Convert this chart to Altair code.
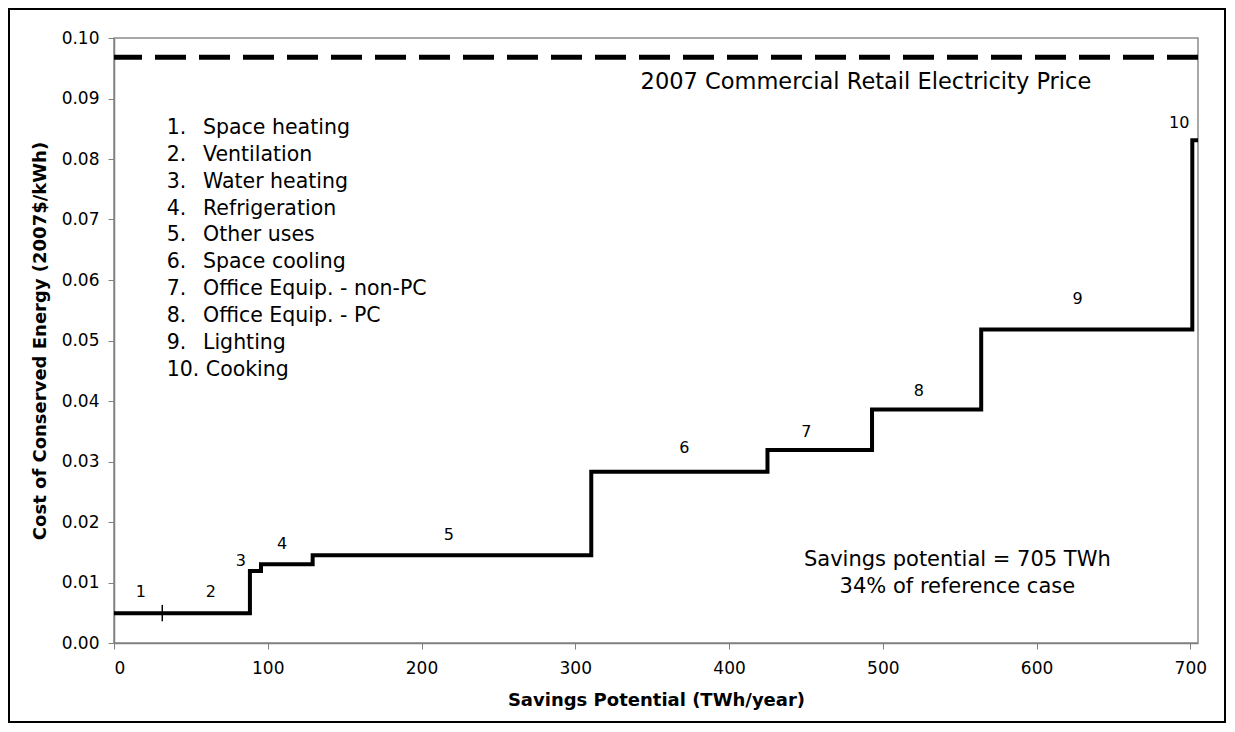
import altair as alt
import pandas as pd

# ---- data ----
step_start = [0, 31.4, 88.4, 95.6, 129.2, 310.4, 425.0, 493.0, 564.0, 701.3]
step_cost = [0.0049, 0.0049, 0.0119, 0.0130, 0.0145, 0.0283, 0.0319, 0.0386, 0.0518, 0.0831]
total_savings = 705
retail_price = [0.0968]
divider_x = [31.4]
divider_y = [0.0036, 0.0063]

step_numbers = ["1", "2", "3", "4", "5", "6", "7", "8", "9", "10"]
step_label_x = [17.5, 63, 82.5, 109.4, 217.7, 371, 450.2, 523.4, 626.7, 692.8]
step_label_y = [0.0084, 0.0084, 0.0135, 0.0164, 0.0178, 0.0322, 0.0348, 0.0417, 0.0568, 0.0860]

list_numbers = ["1.", "2.", "3.", "4.", "5.", "6.", "7.", "8.", "9.", "10. Cooking"]
list_names = ["Space heating", "Ventilation", "Water heating", "Refrigeration",
              "Other uses", "Space cooling", "Office Equip. - non-PC",
              "Office Equip. - PC", "Lighting", ""]

price_text = ["2007 Commercial Retail Electricity Price"]
summary_text = ["Savings potential = 705 TWh", "34% of reference case"]

FONT = "DejaVu Sans"

xs = alt.Scale(domain=[0, total_savings], nice=False, zero=True)
ys = alt.Scale(domain=[0, 0.10], nice=False)

steps = pd.DataFrame({"x": step_start + [total_savings],
                      "y": step_cost + [step_cost[-1]]})

curve = alt.Chart(steps).mark_line(interpolate="step-after", color="black",
                                   strokeWidth=4, clip=False).encode(
    x=alt.X("x:Q", scale=xs,
            axis=alt.Axis(title="Savings Potential (TWh/year)", values=list(range(0, 701, 100)),
                          format="d", labelPadding=11, titlePadding=15)),
    y=alt.Y("y:Q", scale=ys,
            axis=alt.Axis(title="Cost of Conserved Energy (2007$/kWh)",
                          values=[i / 100 for i in range(11)], format=".2f",
                          labelPadding=9, titlePadding=12)),
)

price = alt.Chart(pd.DataFrame({"p": retail_price})).mark_rule(
    color="black", strokeWidth=5, strokeDash=[31, 13]).encode(
    y=alt.Y("p:Q", scale=ys))

divider = alt.Chart(pd.DataFrame({"x": divider_x, "y": [divider_y[0]], "y2": [divider_y[1]]})).mark_rule(
    color="black", strokeWidth=1.5).encode(
    x=alt.X("x:Q", scale=xs), y=alt.Y("y:Q", scale=ys), y2="y2:Q")

step_lbl = alt.Chart(pd.DataFrame({"t": step_numbers, "x": step_label_x, "y": step_label_y})).mark_text(
    font=FONT, fontSize=16, color="black", baseline="middle", align="center").encode(
    x=alt.X("x:Q", scale=xs), y=alt.Y("y:Q", scale=ys), text="t:N")

rows = pd.DataFrame({"num": list_numbers, "name": list_names, "i": list(range(len(list_numbers)))})
list_num = alt.Chart(rows).mark_text(
    font=FONT, fontSize=20.5, color="black", baseline="middle", align="left").transform_calculate(
    px="52.7", py="90 + datum.i * 26.85").encode(
    x=alt.X("px:Q", scale=None), y=alt.Y("py:Q", scale=None), text="num:N")
list_name = alt.Chart(rows).mark_text(
    font=FONT, fontSize=20.5, color="black", baseline="middle", align="left").transform_calculate(
    px="89", py="90 + datum.i * 26.85").encode(
    x=alt.X("px:Q", scale=None), y=alt.Y("py:Q", scale=None), text="name:N")

price_lbl = alt.Chart(pd.DataFrame({"t": price_text, "x": [342.5], "y": [0.0928]})).mark_text(
    font=FONT, fontSize=22.5, color="black", baseline="middle", align="left").encode(
    x=alt.X("x:Q", scale=xs), y=alt.Y("y:Q", scale=ys), text="t:N")

summary = alt.Chart(pd.DataFrame({"t": summary_text, "x": [548.5, 548.5], "y": [0.01372, 0.00926]})).mark_text(
    font=FONT, fontSize=21, color="black", baseline="middle", align="center").encode(
    x=alt.X("x:Q", scale=xs), y=alt.Y("y:Q", scale=ys), text="t:N")

frame = alt.Chart(alt.Data(values=[{}])).mark_rect(
    filled=False, stroke="black", strokeWidth=2).encode(
    x=alt.value(-105), x2=alt.value(1111), y=alt.value(-29), y2=alt.value(684))

chart = alt.layer(frame, price, curve, divider, step_lbl, list_num, list_name, price_lbl, summary).properties(
    width=1084, height=605,
    autosize=alt.AutoSizeParams(type="none"),
    padding={"left": 106, "top": 30, "right": 29, "bottom": 81},
).configure_view(
    stroke="#8c8c8c", strokeWidth=1.5
).configure_axis(
    grid=False, labelFont=FONT, titleFont=FONT, labelFontSize=17, titleFontSize=18,
    titleFontWeight="bold", labelColor="black", titleColor="black",
    domainColor="#808080", domainWidth=1.5, tickColor="#808080", tickWidth=1, tickSize=6
)

chart.save("out.html", embed_options={"renderer": "svg", "actions": False})
